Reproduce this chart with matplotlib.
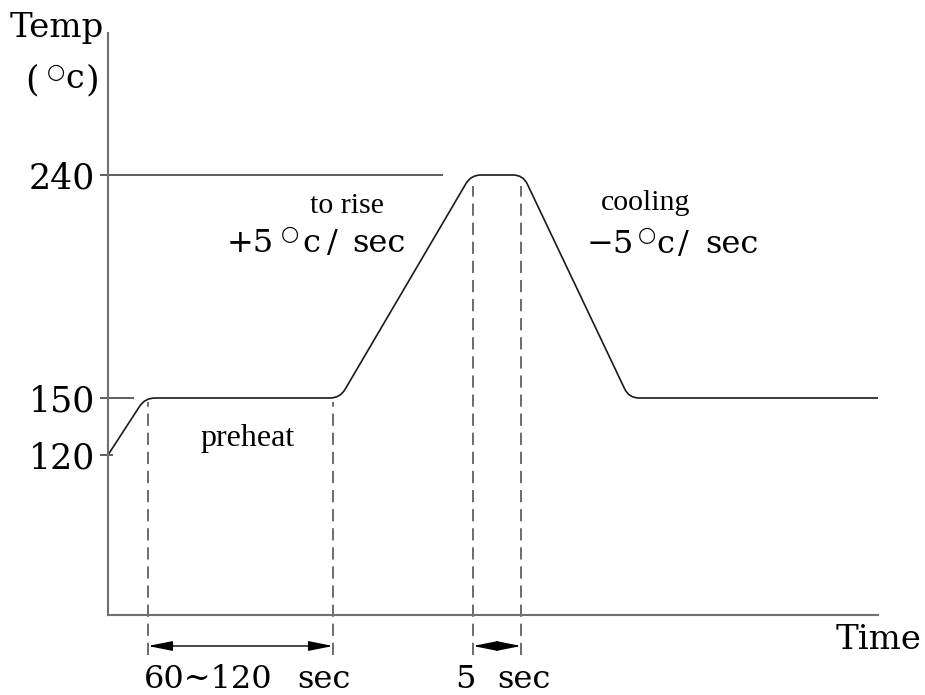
import numpy as np
import matplotlib
matplotlib.use("Agg")
import matplotlib.pyplot as plt
from matplotlib.path import Path
from matplotlib.patches import PathPatch
from matplotlib.transforms import IdentityTransform

# ---- data (schematic reflow profile) ----
time_pts = [0, 37, 232, 363, 415, 521, 770]
temp_pts = [120, 150, 150, 240, 240, 150, 150]
ytick_vals = [120, 150, 240]
ytick_labels = ["120", "150", "240"]
dash_times_preheat = [40, 225]
dash_times_peak = [365, 413]

# schematic (non-linear) temperature axis knots
knot_temp = [-1000, 0, 120, 150, 240, 350, 1000]
knot_h = [80 - 1000 * 4 / 3, 80, 240, 297, 520, 662, 662 + 650 * 1.29]

def fwd(t):
    return np.interp(t, knot_temp, knot_h)

def inv(h):
    return np.interp(h, knot_h, knot_temp)

SERIF = ["DejaVu Serif", "DejaVu Sans"]
TIMES = ["Liberation Serif", "DejaVu Serif"]
W, H = 925, 695

fig = plt.figure(figsize=(W / 100, H / 100), dpi=100)
ax = fig.add_axes([0, 0, 1, 1])
ax.set_yscale("function", functions=(fwd, inv))
ax.set_xlim(-108, W - 108)
ax.set_ylim(inv(0), inv(H))
ax.patch.set_alpha(0)

# axes lines
for s in ["top", "right"]:
    ax.spines[s].set_visible(False)
ax.spines["left"].set_position(("data", 0))
ax.spines["bottom"].set_position(("data", 0))
ax.spines["left"].set_bounds(0, 350)
ax.spines["bottom"].set_bounds(0, 770)
for s in ["left", "bottom"]:
    ax.spines[s].set_color("#707070")
    ax.spines[s].set_linewidth(1.5)
ax.set_xticks([])
ax.set_yticks(ytick_vals)
ax.set_yticklabels(ytick_labels, fontsize=25, family=SERIF)
ax.tick_params(axis="y", length=0, pad=9.5)

# reference lines at the tick levels
ax.hlines(240, -8, 335, color="#333333", lw=1.1)
ax.hlines(150, -8, 26, color="#333333", lw=1.1)
ax.hlines(120, -8, 5, color="#333333", lw=1.1)

# profile with rounded corners (built in display space)
fig.canvas.draw()
pts = ax.transData.transform(np.column_stack([time_pts, temp_pts]))
r = 10.0
verts = [pts[0]]
codes = [Path.MOVETO]
for i in range(1, len(pts) - 1):
    p, c, n = pts[i - 1], pts[i], pts[i + 1]
    a = c + (p - c) / np.linalg.norm(p - c) * r
    b = c + (n - c) / np.linalg.norm(n - c) * r
    verts += [a, c, b]
    codes += [Path.LINETO, Path.CURVE3, Path.CURVE3]
verts.append(pts[-1])
codes.append(Path.LINETO)
ax.add_patch(PathPatch(Path(verts, codes), transform=IdentityTransform(),
                       fill=False, edgecolor="#1a1a1a", lw=1.2))

# dashed guide lines
dash_bottom = inv(40)
ax.vlines(dash_times_preheat, dash_bottom, inv(293), color="#444444", lw=1.1,
          linestyles=(0, (8, 4.5)))
ax.vlines(dash_times_peak, dash_bottom, inv(509), color="#444444", lw=1.1,
          linestyles=(0, (8, 4.5)))

# dimension arrows
arrow_y = inv(49)
aprops = dict(arrowstyle="<|-|>,head_length=0.75,head_width=0.15",
              color="black", lw=1.0, mutation_scale=20, shrinkA=0, shrinkB=0)
ax.annotate("", xy=(dash_times_preheat[0], arrow_y), xytext=(dash_times_preheat[1], arrow_y),
            arrowprops=aprops)
ax.annotate("", xy=(dash_times_peak[0], arrow_y), xytext=(dash_times_peak[1], arrow_y),
            arrowprops=aprops)

def put(x, yb, s, size=23, family=SERIF, ha="left"):
    fig.text(x / W, 1 - yb / H, s, fontsize=size, family=family, ha=ha, va="baseline")

# axis titles
put(10, 37, "Temp", size=24.5)
put(25, 90, "(", size=25)
put(47, 78, "○", size=15)
put(65, 88, "c", size=24)
put(86, 90, ")", size=25)
put(836, 649, "Time", size=24.5)

# annotations
put(347, 213, "to rise", size=21.5, family=TIMES, ha="center")
put(227, 252, "+5", size=23)
put(281, 240, "○", size=15)
put(302, 252, "c", size=23)
put(327, 252, "/", size=23)
put(352, 252, "sec", size=23)

put(646, 210, "cooling", size=21.5, family=TIMES, ha="center")
put(587, 253, "\u22125", size=23)
put(638, 241, "○", size=15)
put(656, 253, "c", size=23)
put(678, 253, "/", size=23)
put(705, 253, "sec", size=23)

put(248, 446, "preheat", size=23, family=TIMES, ha="center")

put(144, 688, "60~120", size=23)
put(297, 688, "sec", size=23)
put(455, 688, "5", size=23)
put(497, 688, "sec", size=23)

fig.savefig("out.png", dpi=100)
